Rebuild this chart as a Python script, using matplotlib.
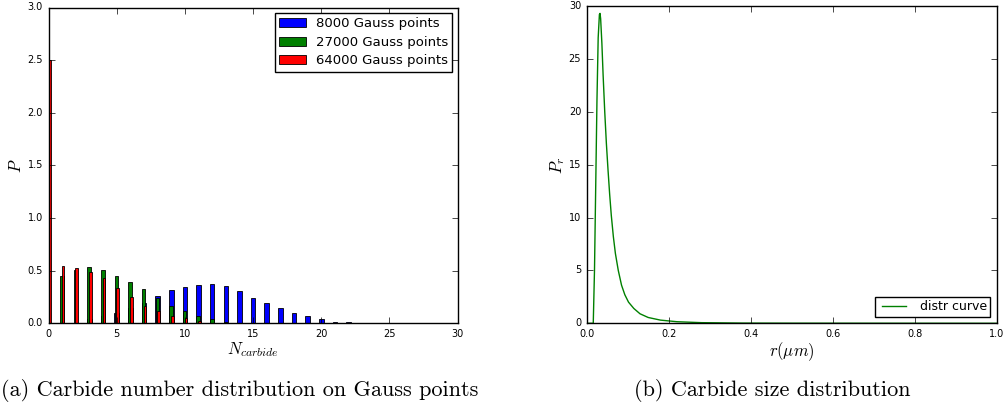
import matplotlib
matplotlib.use("Agg")
import matplotlib.pyplot as plt
import numpy as np

plt.style.use("classic")
plt.rcParams["mathtext.fontset"] = "cm"

# --- carbide number histograms (density per bin) ---
n_8000 = list(range(3, 24))
p_8000 = [0.038, 0.07, 0.10, 0.148, 0.196, 0.262, 0.316, 0.342, 0.364, 0.37, 0.354,
          0.31, 0.237, 0.196, 0.146, 0.098, 0.066, 0.041, 0.016, 0.01, 0.003]
n_27000 = list(range(0, 15))
p_27000 = [1.7, 0.45, 0.51, 0.537, 0.503, 0.452, 0.395, 0.323, 0.245, 0.164,
           0.114, 0.07, 0.04, 0.015, 0.005]
n_64000 = list(range(0, 13))
p_64000 = [2.5, 0.544, 0.528, 0.49, 0.427, 0.332, 0.247, 0.167, 0.12, 0.072,
           0.047, 0.02, 0.005]

# --- carbide size distribution curve ---
r_um = [0.0, 0.016, 0.019, 0.022, 0.025, 0.028, 0.031, 0.0325, 0.034, 0.037, 0.040,
        0.044, 0.048, 0.052, 0.056, 0.060, 0.065, 0.070, 0.077, 0.085, 0.093, 0.102,
        0.115, 0.130, 0.150, 0.180, 0.220, 0.280, 0.380, 0.500, 1.0]
p_r = [0.0, 0.0, 5.0, 13.0, 21.0, 27.0, 29.2, 29.3, 28.8, 26.5, 23.5, 20.0, 17.0,
       14.5, 12.2, 10.2, 8.2, 6.6, 5.0, 3.6, 2.7, 2.0, 1.4, 0.9, 0.55, 0.3, 0.15,
       0.06, 0.02, 0.01, 0.0]

fig = plt.figure(figsize=(10.08, 4.13), dpi=100, facecolor="white")

# left panel
ax1 = fig.add_axes([48.5 / 1008, 89.7 / 413, 409.2 / 1008, 315.8 / 413])
ax1.bar(np.array(n_8000) + 0.0, p_8000, width=0.33, color="b", edgecolor="k",
        linewidth=0.6, label="8000 Gauss points")
ax1.bar(np.array(n_27000) - 0.02, p_27000, width=0.26, color="g", edgecolor="k",
        linewidth=0.6, label="27000 Gauss points")
ax1.bar(np.array(n_64000) + 0.07, p_64000, width=0.19, color="r", edgecolor="k",
        linewidth=0.6, label="64000 Gauss points")
ax1.set_xlim(0, 30)
ax1.set_ylim(0, 3.0)
ax1.set_xticks(range(0, 31, 5))
ax1.set_yticks(np.arange(0, 3.01, 0.5))
ax1.tick_params(labelsize=7)
ax1.set_xlabel(r"$N_{carbide}$", fontsize=12, labelpad=1)
ax1.set_ylabel(r"$P$", fontsize=12, labelpad=2)
ax1.legend(loc="upper right", fontsize=9.5, handlelength=2.0, handletextpad=0.75,
           borderpad=0.35, labelspacing=0.42, borderaxespad=0.4)

# right panel
ax2 = fig.add_axes([586.7 / 1008, 89.7 / 413, 410 / 1008, 317.3 / 413])
ax2.plot(r_um, p_r, color="g", linewidth=1, label="distr curve")
ax2.set_xlim(0, 1.0)
ax2.set_ylim(0, 30)
ax2.set_xticks(np.arange(0, 1.01, 0.2))
ax2.set_yticks(range(0, 31, 5))
ax2.tick_params(labelsize=7)
ax2.set_xlabel(r"$r(\mu m)$", fontsize=12, labelpad=1)
ax2.set_ylabel(r"$P_r$", fontsize=12, labelpad=1)
ax2.legend(loc="lower right", fontsize=9, handlelength=2.5, borderpad=0.3)

# subfigure captions
fig.text(240 / 1008, 1 - 391 / 413, "(a) Carbide number distribution on Gauss points",
         family="cmr10", fontsize=16, ha="center", va="center")
fig.text(772 / 1008, 1 - 391 / 413, "(b) Carbide size distribution",
         family="cmr10", fontsize=16, ha="center", va="center")

fig.savefig("out.png", dpi=100, facecolor="white")
